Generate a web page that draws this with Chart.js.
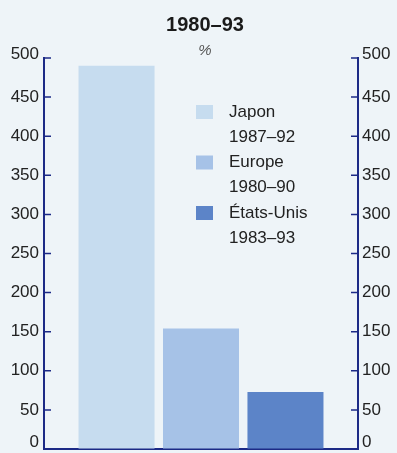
<!DOCTYPE html>
<html>
<head>
<meta charset="utf-8">
<script src="https://cdn.jsdelivr.net/npm/chart.js@4.4.1/dist/chart.umd.min.js"></script>
<style>
  html, body { margin: 0; padding: 0; background: #eef4f8; }
  #wrap { width: 397px; height: 453px; position: relative; }
</style>
</head>
<body>
<div id="wrap"><canvas id="chart"></canvas></div>
<script>
// données
var categories = [''];
var seriesNames = [['Japon', '1987–92'], ['Europe', '1980–90'], ['États-Unis', '1983–93']];
var seriesValues = [490, 154, 73];
var seriesColors = ['#c6dcef', '#a6c2e7', '#5c84c8'];
var tickValues = [0, 50, 100, 150, 200, 250, 300, 350, 400, 450, 500];

var FONT = '"Liberation Sans", sans-serif';
var NAVY = '#1c2a86';

var datasets = seriesNames.map(function (name, i) {
  return {
    label: name.join(' '),
    data: [seriesValues[i]],
    backgroundColor: seriesColors[i],
    borderWidth: 0,
    categoryPercentage: 0.807,
    barPercentage: 0.9,
    yAxisID: 'y'
  };
});

// titre, ticks intérieurs, libellés des axes et légende
var decor = {
  id: 'decor',
  afterDraw: function (chart) {
    var ctx = chart.ctx;
    var area = chart.chartArea;
    var yl = chart.scales.y;
    var cx = (area.left + area.right) / 2;
    ctx.save();
    ctx.fillStyle = '#1a1a1a';
    ctx.textAlign = 'center';
    ctx.textBaseline = 'middle';
    ctx.font = 'bold 20px ' + FONT;
    ctx.fillText('1980–93', cx + 4, 25);
    ctx.fillStyle = '#555';
    ctx.font = 'italic 15px ' + FONT;
    ctx.fillText('%', cx + 4, 51);

    // ticks vers l'intérieur + libellés
    ctx.strokeStyle = NAVY;
    ctx.lineWidth = 1.5;
    ctx.font = '17px ' + FONT;
    tickValues.forEach(function (v, k) {
      var y = yl.getPixelForValue(v);
      ctx.beginPath();
      ctx.moveTo(area.left, y);
      ctx.lineTo(area.left + 7, y);
      ctx.moveTo(area.right, y);
      ctx.lineTo(area.right - 7, y);
      ctx.stroke();
      var ly = y;
      if (k === 0) ly -= 7;
      if (k === tickValues.length - 1) ly -= 4;
      ctx.fillStyle = '#222';
      ctx.textAlign = 'right';
      ctx.fillText(String(v), area.left - 5, ly);
      ctx.textAlign = 'left';
      ctx.fillText(String(v), area.right + 4, ly);
    });

    // légende
    ctx.textAlign = 'left';
    ctx.font = '17px ' + FONT;
    var top = 112;
    seriesNames.forEach(function (name, i) {
      var y0 = top + i * 50.5;
      ctx.fillStyle = seriesColors[i];
      ctx.fillRect(196, y0 - 7, 17, 14);
      ctx.fillStyle = '#222';
      ctx.fillText(name[0], 229, y0);
      ctx.fillText(name[1], 229, y0 + 25);
    });
    ctx.restore();
  }
};

new Chart(document.getElementById('chart'), {
  type: 'bar',
  data: { labels: categories, datasets: datasets },
  options: {
    responsive: true,
    maintainAspectRatio: false,
    animation: false,
    layout: { padding: { top: 58, bottom: 4, left: 0, right: 0 } },
    plugins: { legend: { display: false }, tooltip: { enabled: false } },
    scales: {
      x: {
        ticks: { display: false },
        grid: { display: false, drawTicks: false },
        border: { color: NAVY, width: 2 }
      },
      y: {
        position: 'left',
        min: 0, max: 500,
        afterFit: function (s) { s.width = 44; },
        ticks: { display: false },
        grid: { drawOnChartArea: false, drawTicks: false },
        border: { color: NAVY, width: 2 }
      },
      y2: {
        position: 'right',
        min: 0, max: 500,
        afterFit: function (s) { s.width = 39; },
        ticks: { display: false },
        grid: { drawOnChartArea: false, drawTicks: false },
        border: { color: NAVY, width: 2 }
      }
    }
  },
  plugins: [decor]
});
</script>
</body>
</html>
